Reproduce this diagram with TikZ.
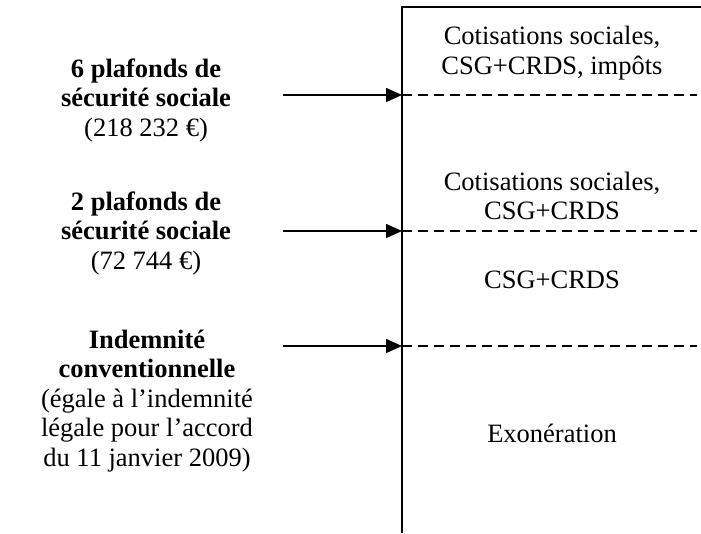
\documentclass[tikz,border=0pt]{standalone}
\usepackage{fontspec}
\setmainfont{Liberation Serif}
\usetikzlibrary{arrows.meta,positioning}
\tikzset{
	txt/.style = {align=center, inner sep=0pt, font=\fontsize{26.5}{29.5}\selectfont}, % all texts of the picture
	limit/.style = {-{Triangle[length=16pt,width=14pt]}, line width=1.6pt}, % arrow towards the axis
	sep/.style = {line width=1.6pt, dash pattern=on 10pt off 6pt}, % dashed separation of the bands
	axis/.style = {line width=1.8pt}
}

\begin{document}
\begin{tikzpicture}[x=1pt,y=-1pt]
	\useasboundingbox (0,0) rectangle (701,533);
	% axis
	\coordinate (top) at (402,7);
	\coordinate (bot) at (402,533);
	\coordinate (end) at (701,7);
	\draw[axis] (end) -- (top) -- (bot);
	% limits on the left
	\node[txt] (lim1) at (146,100) {\textbf{6 plafonds de}\\\textbf{sécurité sociale}\\(218 232 €)};
	\node[txt] (lim2) at (146,233) {\textbf{2 plafonds de}\\\textbf{sécurité sociale}\\(72 744 €)};
	\node[txt] (lim3) at (147,401) {\textbf{Indemnité}\\\textbf{conventionnelle}\\(égale à l’indemnité\\légale pour l’accord\\du 11 janvier 2009)};
	% bands on the right
	\node[txt] (band1) at (552,53) {Cotisations sociales,\\CSG+CRDS, impôts};
	\node[txt] (band2) at (552,196) {Cotisations sociales,\\CSG+CRDS};
	\node[txt] (band3) at (552,280) {CSG+CRDS};
	\node[txt] (band4) at (552,433) {Exonération};
	% arrows and dashed lines
	\foreach \i/\y in {1/95,2/231,3/346}{
		\coordinate (s\i) at (283,\y);
		\coordinate (a\i) at (402,\y);
		\coordinate (e\i) at (697,\y);
		\draw[limit] (s\i) -- (a\i);
		\draw[sep] (a\i) -- (e\i);
	}
\end{tikzpicture}
\end{document}
